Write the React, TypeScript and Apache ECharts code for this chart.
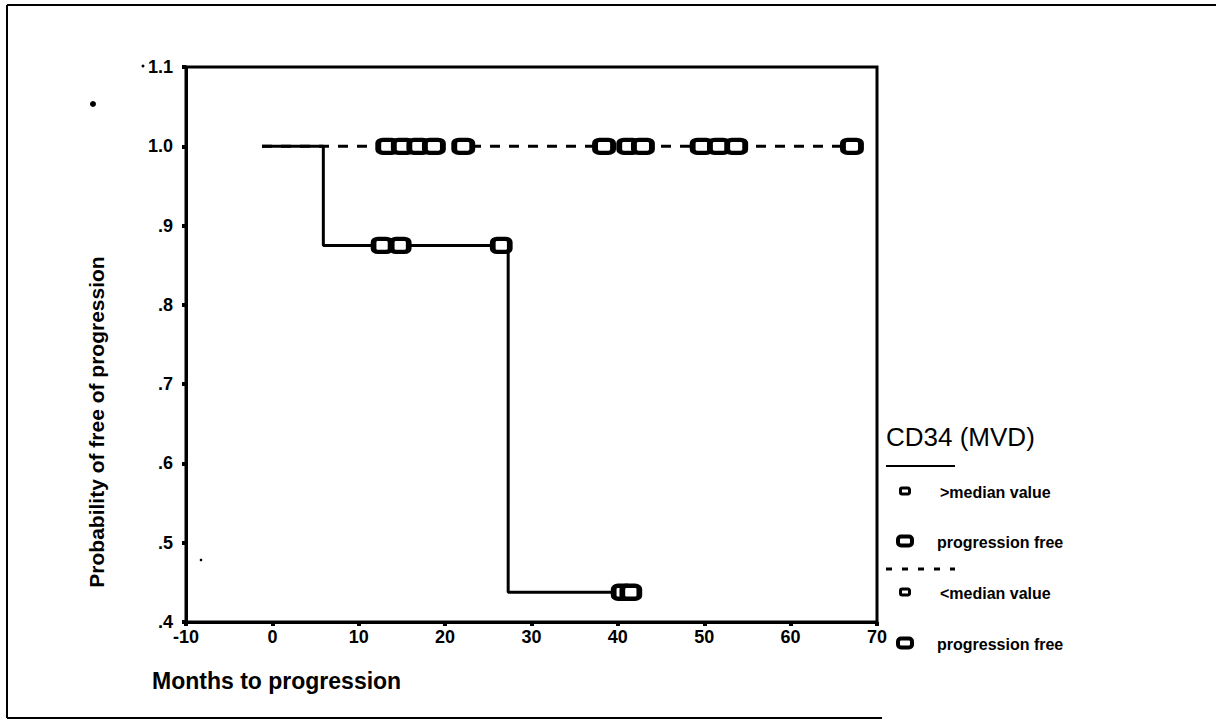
import React, { useEffect, useRef } from "react";
import * as echarts from "echarts";

const xMin = -10;
const xMax = 70;
const xStep = 10;
const yMin = 0.4;
const yMax = 1.1;
const yStep = 0.1;

// Kaplan-Meier step curve, > median value (corners of the steps)
const aboveCurve: number[][] = [
  [-1.2, 1.0],
  [5.9, 1.0],
  [5.9, 0.875],
  [27.3, 0.875],
  [27.3, 0.4375],
  [41.5, 0.4375],
];
// < median value: no events
const belowCurve: number[][] = [
  [-1.2, 1.0],
  [67.1, 1.0],
];
// censored (progression free) marks
const aboveCensoredX = [12.7, 14.8, 26.5, 40.5, 41.5];
const aboveCensoredY = [0.875, 0.875, 0.875, 0.4375, 0.4375];
const belowCensoredX = [13.3, 15.1, 16.9, 18.7, 22.1, 38.4, 41.2, 42.9, 49.7, 51.7, 53.7, 67.1];
const belowCensoredY = 1.0;

const legendTitle = "CD34 (MVD)";
const legendItems = [">median value", "progression free", "<median value", "progression free"];
const xTitle = "Months to progression";
const yTitle = "Probability of free of progression";

const FONT = "'Liberation Sans', Arial, sans-serif";

export default function App() {
  const ref = useRef<HTMLDivElement>(null);
  useEffect(() => {
    if (!ref.current) return;
    const chart = echarts.init(ref.current, undefined, { renderer: "svg" });
    const markerStyle = { color: "#fff", borderColor: "#000", borderWidth: 5, opacity: 1 };
    const legendX = 886;
    const smallMark = (cy: number) => ({
      type: "rect",
      shape: { x: 900.5, y: cy - 3, width: 9, height: 6, r: 1.5 },
      style: { fill: "#fff", stroke: "#000", lineWidth: 3 },
    });
    const bigMark = (cy: number) => ({
      type: "rect",
      shape: { x: 898, y: cy - 4.5, width: 14, height: 9, r: 3 },
      style: { fill: "#fff", stroke: "#000", lineWidth: 4 },
    });
    const option: any = {
      animation: false,
      backgroundColor: "#fff",
      grid: {
        left: 186,
        right: 339,
        top: 67,
        bottom: 104,
        show: true,
        borderColor: "#000",
        borderWidth: 3,
        backgroundColor: "transparent",
      },
      xAxis: {
        type: "value",
        min: xMin,
        max: xMax,
        interval: xStep,
        axisLine: { show: true, onZero: false, lineStyle: { color: "#000", width: 3 } },
        axisTick: { show: true, inside: false, length: 4, lineStyle: { color: "#000", width: 4 } },
        splitLine: { show: false },
        axisLabel: {
          color: "#000",
          fontFamily: FONT,
          fontWeight: "bold",
          fontSize: 18,
          margin: 6,
        },
      },
      yAxis: {
        type: "value",
        min: yMin,
        max: yMax,
        interval: yStep,
        axisLine: { show: true, onZero: false, lineStyle: { color: "#000", width: 3 } },
        axisTick: { show: true, inside: false, length: 4, lineStyle: { color: "#000", width: 4 } },
        splitLine: { show: false },
        axisLabel: {
          color: "#000",
          fontFamily: FONT,
          fontWeight: "bold",
          fontSize: 18,
          margin: 13,
          formatter: (v: number) => (v >= 0.999 ? v.toFixed(1) : "." + Math.round(v * 10)),
        },
      },
      series: [
        {
          type: "line",
          data: belowCurve,
          symbol: "none",
          lineStyle: { color: "#000", width: 3, type: [10, 9] },
          z: 2,
        },
        {
          type: "line",
          data: aboveCurve,
          symbol: "none",
          lineStyle: { color: "#000", width: 3, type: "solid" },
          z: 3,
        },
        {
          type: "scatter",
          data: belowCensoredX.map((x) => [x, belowCensoredY]),
          symbol: "roundRect",
          symbolSize: [18, 13],
          itemStyle: markerStyle,
          z: 4,
        },
        {
          type: "scatter",
          data: aboveCensoredX.map((x, i) => [x, aboveCensoredY[i]]),
          symbol: "roundRect",
          symbolSize: [17, 13],
          itemStyle: markerStyle,
          z: 4,
        },
      ],
      graphic: [
        // outer frame
        { type: "line", shape: { x1: 7, y1: 5, x2: 1216, y2: 5 }, style: { stroke: "#000", lineWidth: 2 } },
        { type: "line", shape: { x1: 7, y1: 5, x2: 7, y2: 718 }, style: { stroke: "#000", lineWidth: 2 } },
        { type: "line", shape: { x1: 7, y1: 718, x2: 882, y2: 718 }, style: { stroke: "#000", lineWidth: 2 } },
        // specks from the scan
        { type: "circle", shape: { cx: 143, cy: 66, r: 1.5 }, style: { fill: "#000" } },
        { type: "circle", shape: { cx: 93, cy: 104, r: 3 }, style: { fill: "#000" } },
        { type: "circle", shape: { cx: 201, cy: 560, r: 1.3 }, style: { fill: "#000" } },
        // axis titles
        {
          type: "text",
          left: 152,
          top: 669,
          style: { text: xTitle, fill: "#000", font: `bold 23px ${FONT}` },
        },
        {
          type: "text",
          x: 96,
          y: 422,
          rotation: Math.PI / 2,
          style: {
            text: yTitle,
            fill: "#000",
            font: `bold 21px ${FONT}`,
            align: "center",
            verticalAlign: "middle",
          },
        },
        // legend
        {
          type: "text",
          x: legendX,
          y: 437,
          style: { text: legendTitle, fill: "#000", font: `26px ${FONT}`, verticalAlign: "middle" },
        },
        { type: "line", shape: { x1: legendX, y1: 466, x2: 955, y2: 466 }, style: { stroke: "#000", lineWidth: 2 } },
        { type: "line", shape: { x1: legendX, y1: 569, x2: 955, y2: 569 }, style: { stroke: "#000", lineWidth: 3, lineDash: [6, 10] } },
        smallMark(491),
        bigMark(541),
        smallMark(592),
        bigMark(643),
        { type: "text", x: 940, y: 492, style: { text: legendItems[0], fill: "#000", font: `bold 16px ${FONT}`, verticalAlign: "middle" } },
        { type: "text", x: 937, y: 542, style: { text: legendItems[1], fill: "#000", font: `bold 16px ${FONT}`, verticalAlign: "middle" } },
        { type: "text", x: 940, y: 593, style: { text: legendItems[2], fill: "#000", font: `bold 16px ${FONT}`, verticalAlign: "middle" } },
        { type: "text", x: 937, y: 644, style: { text: legendItems[3], fill: "#000", font: `bold 16px ${FONT}`, verticalAlign: "middle" } },
      ],
    };
    chart.setOption(option);
    return () => chart.dispose();
  }, []);
  return (
    <div
      ref={ref}
      style={{ position: "fixed", left: 0, top: 0, width: 1216, height: 726, background: "#fff" }}
    />
  );
}
